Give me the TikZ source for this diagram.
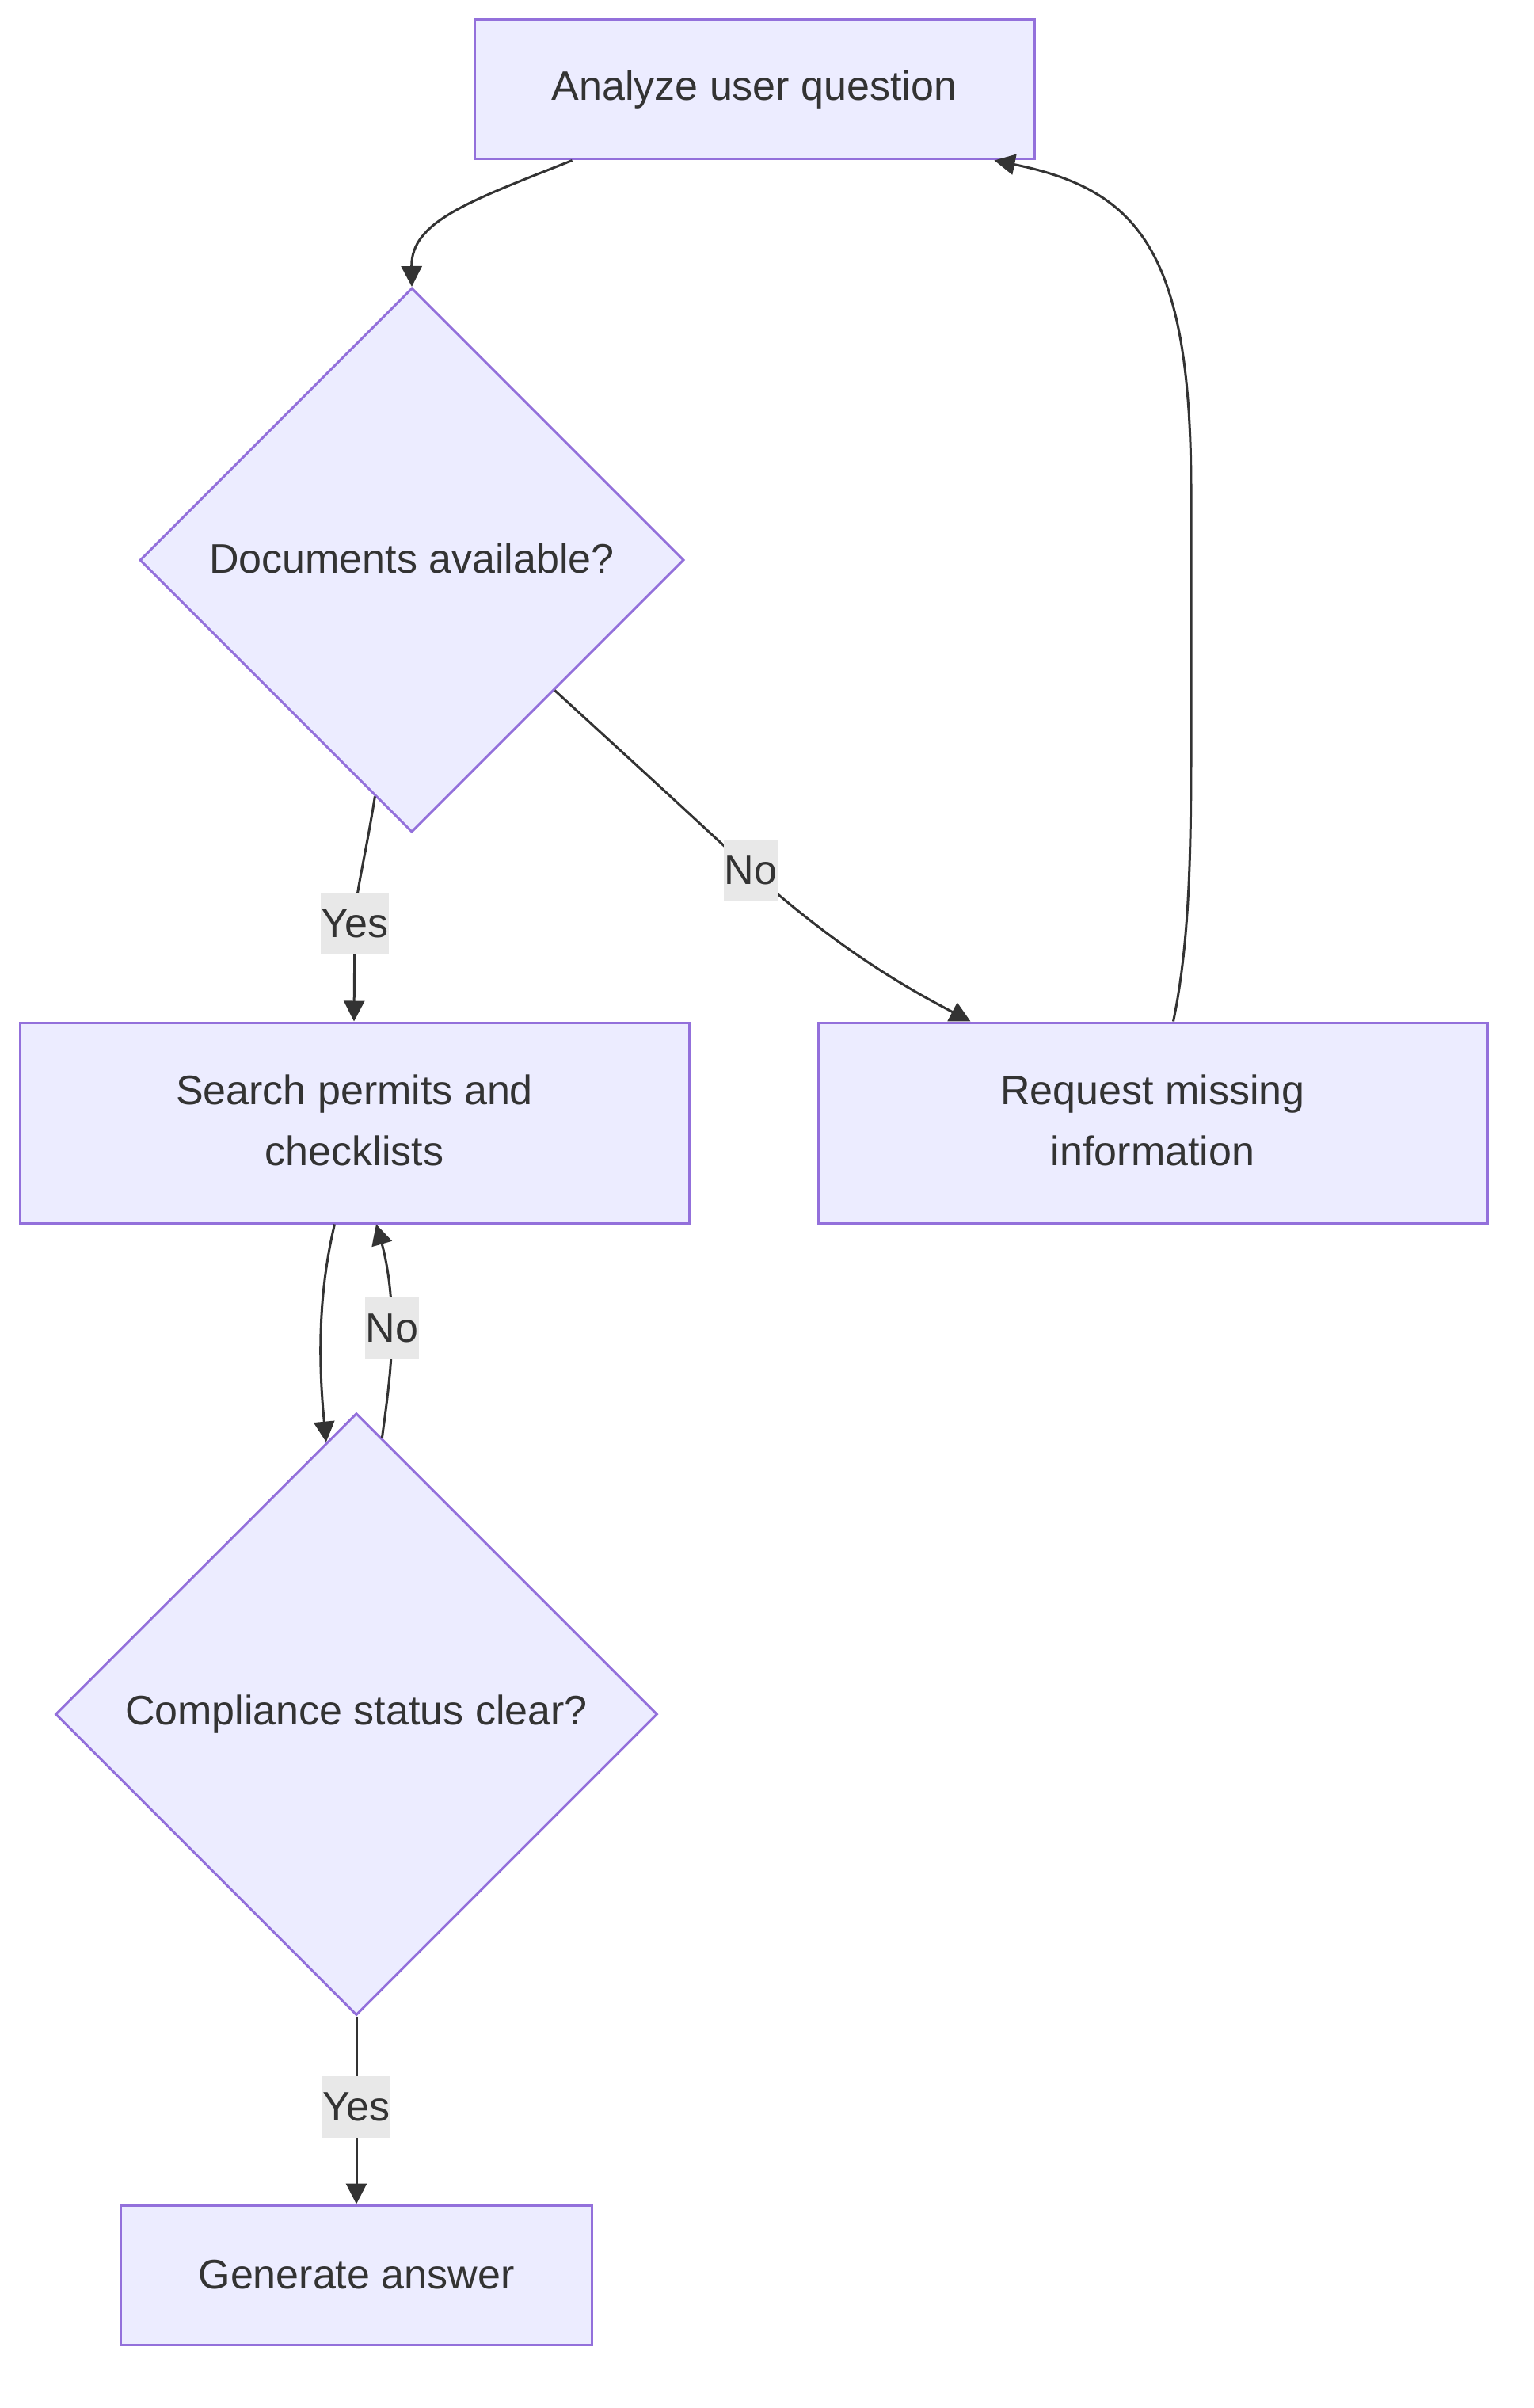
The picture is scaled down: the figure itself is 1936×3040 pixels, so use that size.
\documentclass[tikz,border=0pt]{standalone}
\usepackage{fontspec}
\setmainfont{Liberation Sans}
\usetikzlibrary{shapes.geometric,arrows.meta,calc}
\definecolor{nodefill}{HTML}{ECECFF}
\definecolor{nodeline}{HTML}{9370DB}
\definecolor{txt}{HTML}{333333}
\definecolor{lblbg}{HTML}{E8E8E8}
\begin{document}
\begin{tikzpicture}[x=1pt,y=-1pt,
  every node/.style={text=txt, font=\fontsize{52pt}{77pt}\selectfont},
  box/.style={rectangle, draw=nodeline, fill=nodefill, line width=3pt, align=center, inner sep=0pt},
  dec/.style={diamond, aspect=1, draw=nodeline, fill=nodefill, line width=3pt, inner sep=0pt},
  lbl/.style={fill=lblbg, inner xsep=1pt, inner ysep=0pt, minimum height=78pt},
  edge/.style={draw=txt, line width=3pt, -{Triangle[length=26pt,width=26pt]}}]
\useasboundingbox (0,0) rectangle (1936,3040);
\fill[white] (0,0) rectangle (1936,3040);

\node[box, minimum width=707pt, minimum height=176pt] (A) at (952.5,113) {Analyze user question};
\node[dec, minimum width=687pt, minimum height=687pt] (D1) at (520,707) {\raisebox{4pt}{Documents available?}};
\node[box, minimum width=845pt, minimum height=253pt] (S) at (447.5,1417.5) {\raisebox{6pt}{\begin{tabular}{@{}c@{}}Search permits and\\checklists\end{tabular}}};
\node[box, minimum width=845pt, minimum height=253pt] (R) at (1455.5,1417.5) {\raisebox{6pt}{\begin{tabular}{@{}c@{}}Request missing\\information\end{tabular}}};
\node[dec, minimum width=760pt, minimum height=760pt] (D2) at (450,2164) {Compliance status clear?};
\node[box, minimum width=595pt, minimum height=176pt] (G) at (450,2872) {Generate answer};

\coordinate (ly1) at (448,1166);
\coordinate (ln1) at (948,1099);
\coordinate (ln2) at (495,1677);
\coordinate (ly2) at (450,2660);

% Analyze -> Documents
\draw[edge] ([xshift=-230pt]A.south) .. controls (590,255) and (519,280) .. (D1.north);
% Documents -> Search (Yes)
\draw[edge] ($(D1.west)!0.865!(D1.south)$) .. controls (460,1090) and (448,1130) .. (ly1) -- ([xshift=-0.5pt]S.north);
% Documents -> Request (No)
\draw[edge] ($(D1.east)!0.477!(D1.south)$) .. controls (830,990) .. (ln1) .. controls (1060,1200) and (1150,1250) .. ([xshift=-230pt]R.north);
% Request -> Analyze
\draw[edge] ([xshift=26pt]R.north) .. controls (1500,1200) and (1504,1100) .. (1504,950) -- (1504,620) .. controls (1504,320) and (1440,240) .. ([xshift=303pt]A.south);
% Search -> Compliance
\draw[edge] ([xshift=-25pt]S.south) .. controls (405,1620) and (400,1700) .. ($(D2.north)!0.1!(D2.west)$);
% Compliance -> Search (No)
\draw[edge] ($(D2.north)!0.085!(D2.east)$) .. controls (490,1760) and (495,1720) .. (ln2) .. controls (495,1620) and (485,1580) .. ([xshift=27.5pt]S.south);
% Compliance -> Generate (Yes)
\draw[edge] (D2.south) -- (G.north);

\node[lbl] (Y1) at (ly1) {Yes};
\node[lbl] (N1) at (ln1) {No};
\node[lbl] (N2) at (ln2) {No};
\node[lbl] (Y2) at (ly2) {Yes};
\end{tikzpicture}
\end{document}
